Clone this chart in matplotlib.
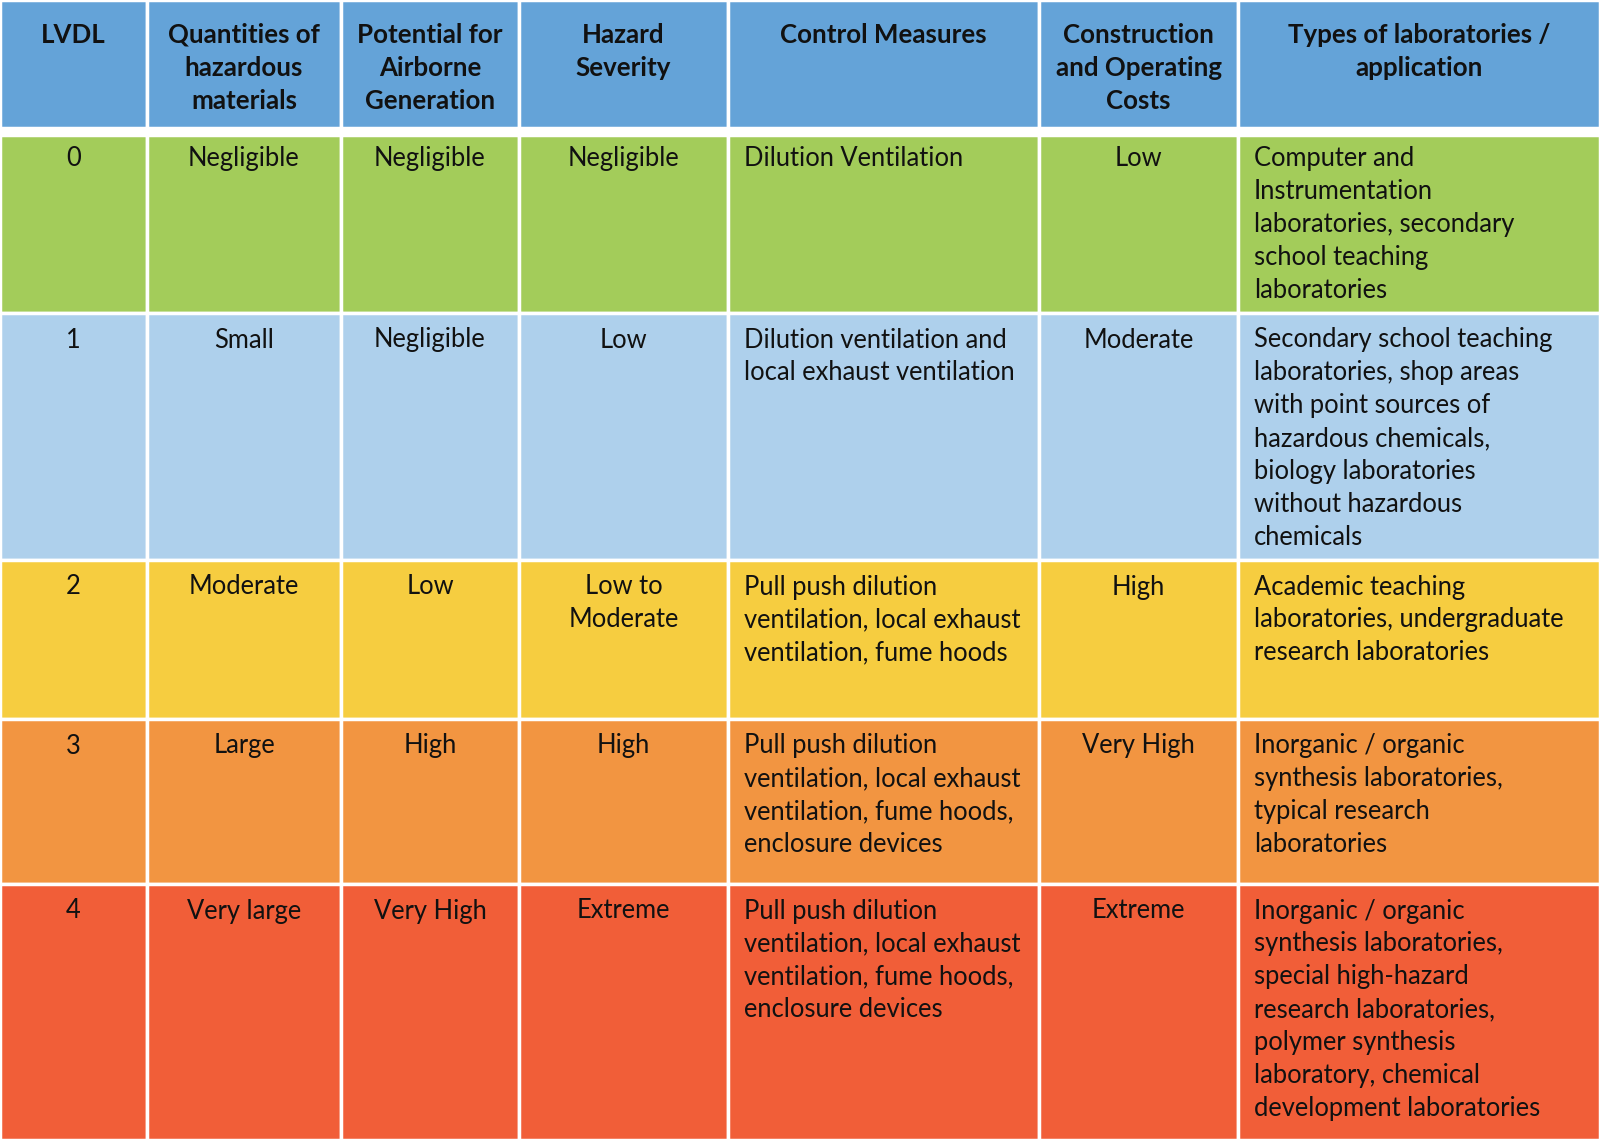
import matplotlib
matplotlib.use("Agg")
import matplotlib.pyplot as plt
from matplotlib.patches import Rectangle

plt.rcParams['font.family'] = ['Lato', 'DejaVu Sans']

headers = [
    "LVDL",
    "Quantities of\nhazardous\nmaterials",
    "Potential for\nAirborne\nGeneration",
    "Hazard\nSeverity",
    "Control Measures",
    "Construction\nand Operating\nCosts",
    "Types of laboratories /\napplication",
]

lvdl = ["0", "1", "2", "3", "4"]
quantities = ["Negligible", "Small", "Moderate", "Large", "Very large"]
airborne = ["Negligible", "Negligible", "Low", "High", "Very High"]
severity = ["Negligible", "Low", "Low to\nModerate", "High", "Extreme"]
control = [
    "Dilution Ventilation",
    "Dilution ventilation and\nlocal exhaust ventilation",
    "Pull push dilution\nventilation, local exhaust\nventilation, fume hoods",
    "Pull push dilution\nventilation, local exhaust\nventilation, fume hoods,\nenclosure devices",
    "Pull push dilution\nventilation, local exhaust\nventilation, fume hoods,\nenclosure devices",
]
costs = ["Low", "Moderate", "High", "Very High", "Extreme"]
lab_types = [
    "Computer and\nInstrumentation\nlaboratories, secondary\nschool teaching\nlaboratories",
    "Secondary school teaching\nlaboratories, shop areas\nwith point sources of\nhazardous chemicals,\nbiology laboratories\nwithout hazardous\nchemicals",
    "Academic teaching\nlaboratories, undergraduate\nresearch laboratories",
    "Inorganic / organic\nsynthesis laboratories,\ntypical research\nlaboratories",
    "Inorganic / organic\nsynthesis laboratories,\nspecial high-hazard\nresearch laboratories,\npolymer synthesis\nlaboratory, chemical\ndevelopment laboratories",
]
columns = [lvdl, quantities, airborne, severity, control, costs, lab_types]
row_colors = ["#A3CC5A", "#AED0EC", "#F6CD40", "#F29541", "#F15E38"]
header_color = "#64A3D8"
align = ["center", "center", "center", "center", "left", "center", "left"]

# layout (pixels)
col_edges = [0, 147, 341, 519, 728, 1039, 1238, 1600]
row_edges = [135, 313, 560, 719, 884, 1140]
row_text_offset = [23.5, 27, 27, 27, 27]
header_bottom = 128
W, H = 1600, 1140
line_pitch = 32.9
fs = 18.4
fs_head = 18.6

fig = plt.figure(figsize=(16, 11.4), dpi=100)
ax = fig.add_axes([0, 0, 1, 1])
ax.set_xlim(0, W)
ax.set_ylim(H, 0)
ax.axis('off')
fig.patch.set_facecolor('white')

def put_lines(text, x, ytop, ha, bold=False, size=fs):
    for i, line in enumerate(text.split("\n")):
        ax.text(x, ytop + i * line_pitch, line, ha=ha, va='center',
                fontsize=size, fontweight='bold' if bold else 'normal',
                color='#111111')

# header
for c in range(len(headers)):
    x0, x1 = col_edges[c], col_edges[c + 1]
    ax.add_patch(Rectangle((x0, 0), x1 - x0, header_bottom, facecolor=header_color,
                           edgecolor='white', lw=2.5))
    put_lines(headers[c], (x0 + x1) / 2, 35, 'center', bold=True, size=fs_head)

# body
for r in range(len(lvdl)):
    y0, y1 = row_edges[r], row_edges[r + 1]
    for c in range(len(columns)):
        x0, x1 = col_edges[c], col_edges[c + 1]
        ax.add_patch(Rectangle((x0, y0), x1 - x0, y1 - y0, facecolor=row_colors[r],
                               edgecolor='white', lw=2.5))
        ty = y0 + row_text_offset[r]
        if align[c] == 'left':
            put_lines(columns[c][r], x0 + 16, ty, 'left')
        else:
            put_lines(columns[c][r], (x0 + x1) / 2, ty, 'center')

fig.savefig("out.png", dpi=100, facecolor='white')
